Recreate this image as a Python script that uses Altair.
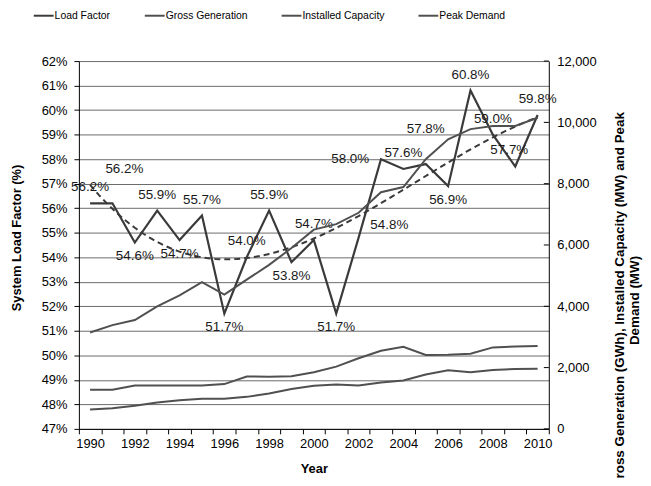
import altair as alt
import pandas as pd

years = list(range(1990, 2011))
load_factor = [56.2, 56.2, 54.6, 55.9, 54.7, 55.7, 51.7, 54.0, 55.9, 53.8, 54.7,
               51.7, 54.8, 58.0, 57.6, 57.8, 56.9, 60.8, 59.0, 57.7, 59.8]
gross_generation = [3144, 3385, 3552, 3995, 4355, 4788, 4383, 4870, 5350, 5900, 6500,
                    6680, 7050, 7720, 7890, 8800, 9450, 9780, 9880, 9880, 10150]
installed_capacity = [1278, 1278, 1417, 1417, 1417, 1417, 1461, 1710, 1700, 1720, 1850,
                      2032, 2303, 2549, 2679, 2410, 2420, 2452, 2659, 2691, 2701]
peak_demand = [631, 670, 755, 860, 935, 985, 987, 1045, 1155, 1300, 1405,
               1450, 1418, 1510, 1579, 1773, 1915, 1845, 1920, 1957, 1962]
label_side = ["above", "highright", "below", "above", "below", "above", "below", "above",
              "above", "below", "above", "below", "right", "left", "above", "high",
              "below", "above", "above", "aboveleft", "above"]
series_names = ["Load Factor", "Gross Generation", "Installed Capacity", "Peak Demand"]
left_ticks = list(range(47, 63))
right_ticks = [0, 2000, 4000, 6000, 8000, 10000, 12000]
right_title = ["Gross Generation (GWh), Installed Capacity (MW) and Peak", "Demand (MW)"]

FONT = "Liberation Sans"
W, H = 474, 371

df_lf = pd.DataFrame({"Year": years, "LF": load_factor, "side": label_side,
                      "Series": "Load Factor"})
df_right = pd.concat([
    pd.DataFrame({"Year": years, "Value": gross_generation, "Series": "Gross Generation"}),
    pd.DataFrame({"Year": years, "Value": installed_capacity, "Series": "Installed Capacity"}),
    pd.DataFrame({"Year": years, "Value": peak_demand, "Series": "Peak Demand"}),
])
df_rticks = pd.DataFrame({"Value": right_ticks})

x_enc = alt.X(
    "Year:Q",
    scale=alt.Scale(domain=[1989.5, 2010.5], nice=False, zero=False),
    axis=alt.Axis(
        values=[y - 0.5 for y in years] + [2010.5],
        labelExpr="((datum.value + 0.5) % 2 == 0 && datum.value < 2010) ? format(datum.value + 0.5, 'd') : ''",
        labelOffset=11.3, labelOverlap=False, labelFlush=False, labelBound=False,
        tickSize=5, tickColor="black", domainColor="black", labelColor="black",
        labelFontSize=13, labelPadding=4, grid=False,
        title="Year", titleFontSize=13, titleFontWeight="bold", titleColor="black",
        titleX=237, titleY=40, titleAlign="center", titleBaseline="middle",
    ),
)

y_left = alt.Y(
    "LF:Q",
    scale=alt.Scale(domain=[47, 62], nice=False, zero=False),
    axis=alt.Axis(
        values=left_ticks, labelExpr="datum.value + '%'", tickSize=5, tickColor="black",
        domainColor="black", labelColor="black", labelFontSize=13, labelPadding=7,
        grid=True, gridColor="#6a6a6a", gridWidth=1,
        title="System Load Factor (%)", titleFontSize=13, titleFontWeight="bold",
        titleColor="black", titleAngle=270, titleX=-62.5, titleY=178,
        titleAlign="center", titleBaseline="middle",
    ),
)

y_right = alt.Y(
    "Value:Q",
    scale=alt.Scale(domain=[0, 12000], nice=False),
    axis=alt.Axis(
        orient="right", values=right_ticks, format=",d", tickSize=0,
        domainColor="black", labelColor="black", labelFontSize=13, labelPadding=8,
        grid=False,
        title=right_title, titleFontSize=13.5, titleFontWeight="bold", titleColor="black",
        titleAngle=270, titleX=71, titleY=241, titleAlign="center", titleBaseline="middle",
        titleLineHeight=15,
    ),
)

color_enc = alt.Color(
    "Series:N",
    scale=alt.Scale(domain=series_names, range=["#3a3a3a", "#505050", "#505050", "#505050"]),
    legend=alt.Legend(
        orient="none", legendX=-46.5, legendY=-57, direction="horizontal", columns=4,
        title=None, symbolType="stroke", symbolSize=400, symbolStrokeWidth=2,
        labelFontSize=10.5, labelFont=FONT, labelColor="black", columnPadding=30,
        labelOffset=0,
    ),
)

lf_line = alt.Chart(df_lf).mark_line(strokeWidth=2.2).encode(
    x=x_enc, y=y_left, color=color_enc
)

trend = alt.Chart(df_lf).transform_regression(
    "Year", "LF", method="poly", order=3
).mark_line(strokeDash=[6, 4], strokeWidth=2, color="#3a3a3a").encode(x=x_enc, y=y_left)

offsets = {
    "above": (0, -16), "below": (0, 14), "high": (0, -35), "highright": (12, -35),
    "left": (-31, 0), "right": (31, -13), "aboveleft": (-6, -17),
}
label_layers = []
for side, (dx, dy) in offsets.items():
    label_layers.append(
        alt.Chart(df_lf).transform_filter(alt.datum.side == side)
        .transform_calculate(label="format(datum.LF, '.1f') + '%'")
        .mark_text(font=FONT, fontSize=13.5, color="#1a1a1a", dx=dx, dy=dy,
                   baseline="middle", align="center")
        .encode(x=x_enc, y=y_left, text="label:N")
    )

left = alt.layer(lf_line, trend, *label_layers)

right_lines = alt.Chart(df_right).mark_line(strokeWidth=2).encode(
    x=x_enc, y=y_right, color=color_enc, detail="Series:N"
)
right_tick_marks = alt.Chart(df_rticks).mark_rule(color="black", strokeWidth=1).encode(
    y=y_right, x=alt.value(W - 5), x2=alt.value(W)
)
right = alt.layer(right_lines, right_tick_marks)

chart = alt.layer(left, right).resolve_scale(y="independent").properties(
    width=W, height=H,
    autosize=alt.AutoSizeParams(type="none"),
    padding={"left": 71.5, "top": 51.5, "right": 95, "bottom": 47},
).configure(font=FONT).configure_view(stroke=None)

chart.save("out.html", embed_options={"renderer": "svg", "actions": False})
